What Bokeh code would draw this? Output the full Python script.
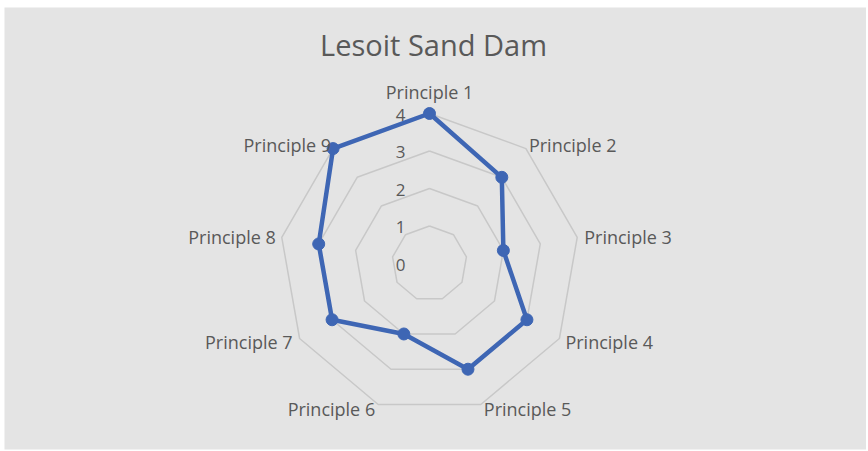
import math
from bokeh.plotting import figure
from bokeh.models import Range1d
from bokeh.core.properties import value
from bokeh.embed import file_html
from bokeh.resources import INLINE

# ---- data ----
title_text = "Lesoit Sand Dam"
categories = ["Principle 1", "Principle 2", "Principle 3", "Principle 4", "Principle 5",
              "Principle 6", "Principle 7", "Principle 8", "Principle 9"]
scores = [4, 3, 2, 3, 3, 2, 3, 3, 4]
ring_values = [1, 2, 3, 4]
tick_labels = ["0", "1", "2", "3", "4"]

# ---- layout ----
W, H = 866, 450
BL, BT, BR, BB = 4, 7, 0, 1          # white margins around the grey chart area
FW, FH = W - BL - BR, H - BT - BB    # frame size
UNIT = 37.5                           # pixels per score unit
SCX, SCY = 429, 263                   # chart centre on screen
CX, CY = SCX - BL, SCY - BT           # centre within frame
FONT = "Open Sans"
TXT = "#595959"
BLUE = "#3E66B4"
GRID = "#C8C8C8"
BG = "#E4E4E4"

p = figure(width=W, height=H, output_backend="svg", toolbar_location=None,
           x_range=Range1d(-CX / UNIT, (FW - CX) / UNIT),
           y_range=Range1d(-(FH - CY) / UNIT, CY / UNIT),
           min_border_left=BL, min_border_top=BT, min_border_right=BR, min_border_bottom=BB,
           background_fill_color=BG, border_fill_color="white",
           outline_line_color=None)
p.axis.visible = False
p.grid.visible = False

n = len(categories)
angles = [math.pi / 2 - 2 * math.pi * k / n for k in range(n)]

def poly(vals):
    xs = [v * math.cos(a) for v, a in zip(vals, angles)]
    ys = [v * math.sin(a) for v, a in zip(vals, angles)]
    return xs + xs[:1], ys + ys[:1]

# grid rings
for rv in ring_values:
    xs, ys = poly([rv] * n)
    p.line(xs, ys, line_color=GRID, line_width=1.5)

# series
sx, sy = poly(scores)
p.line(sx, sy, line_color=BLUE, line_width=4.5, line_join="round")
p.scatter(sx[:-1], sy[:-1], size=12, fill_color=BLUE, line_color=BLUE, marker="circle")

# tick labels along the vertical axis
p.text(x=[0] * len(tick_labels), y=[float(t) for t in tick_labels], text=tick_labels,
       text_font=value(FONT), text_font_size="17px", text_color=TXT,
       text_align="right", text_baseline="middle", x_offset=-24, y_offset=1)

# category labels
rmax = max(ring_values)
offsets = [(0, -22, "center"), (3, -4, "left"), (7, 0, "left"), (6, 3, "left"), (3, 5, "left"),
           (-3, 5, "right"), (-7, 3, "right"), (-6, 0, "right"), (-2, -4, "right")]
for k, cat in enumerate(categories):
    dx, dy, al = offsets[k]
    p.text(x=[rmax * math.cos(angles[k])], y=[rmax * math.sin(angles[k])], text=[cat],
           text_font=value(FONT), text_font_size="18px", text_color=TXT,
           text_align=al, text_baseline="middle", x_offset=dx, y_offset=dy)

# title
p.text(x=[(433 - SCX) / UNIT], y=[(SCY - 44) / UNIT], text=[title_text],
       text_font=value(FONT), text_font_size="29px", text_color=TXT,
       text_align="center", text_baseline="middle")

open("out.html", "w").write(file_html(p, INLINE))
